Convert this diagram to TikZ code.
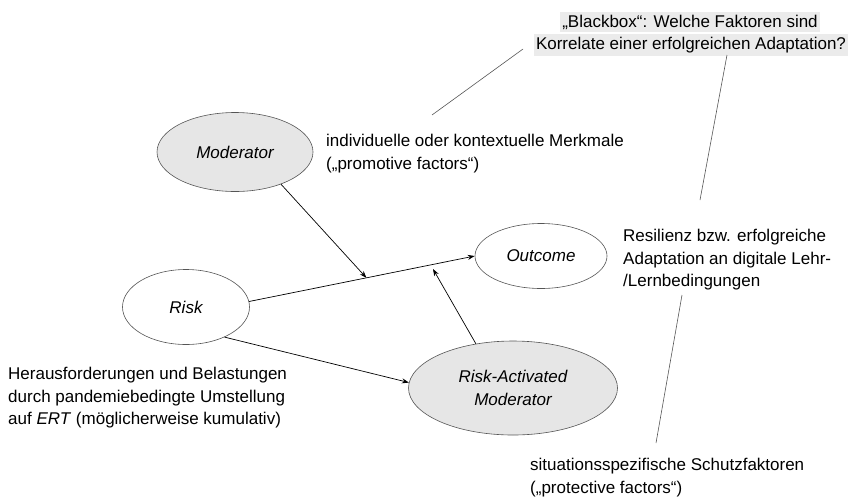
\documentclass[tikz,border=0pt]{standalone}
\usepackage{fontspec}
\setmainfont{Liberation Sans}
\usetikzlibrary{shapes.geometric,arrows.meta}
\definecolor{ellfill}{HTML}{E6E6E6}
\definecolor{ellline}{HTML}{555555}
\definecolor{hl}{HTML}{EBEBEB}
\newcommand{\mainsize}{\fontsize{17}{22.5}\selectfont}
\tikzset{
  ell/.style={ellipse, draw=ellline, line width=0.6pt, inner sep=0pt, font=\mainsize\itshape, align=center},
  shaded/.style={ell, fill=ellfill},
  plain/.style={ell, fill=white},
  arr/.style={-{Stealth[length=7pt,width=5pt]}, line width=0.7pt, black},
  lead/.style={line width=0.6pt, ellline},
  txt/.style={anchor=north west, inner sep=0pt, align=left},
}
\begin{document}
\begin{tikzpicture}[x=1pt,y=-1pt,font=\mainsize]
\useasboundingbox (0,0) rectangle (853,496);
% ellipses
\node[shaded, minimum width=156pt, minimum height=79pt] (mod) at (235,152) {Moderator};
\node[plain, minimum width=127pt, minimum height=75pt] (risk) at (186,307) {Risk};
\node[plain, minimum width=132pt, minimum height=65pt] (out) at (541,256) {Outcome};
\node[shaded, minimum width=209pt, minimum height=94pt] (ram) at (513,388) {Risk-Activated\\Moderator};
% arrows
\draw[arr] (risk.5) -- (out.180) coordinate[pos=0.52] (m1);
\draw[arr] (mod.-35) -- (m1);
\coordinate (m2) at (433,269);
\draw[arr] (ram.130) -- (m2);
\draw[arr] (risk.-38) -- (ram.177);
% blackbox
\node[fill=hl, inner xsep=2pt, inner ysep=3pt, anchor=base] (bb1) at (690,27) {„Blackbox“: Welche Faktoren sind};
\node[fill=hl, inner xsep=2pt, inner ysep=3pt, anchor=base] (bb2) at (691,49) {Korrelate einer erfolgreichen Adaptation?};
\coordinate (l1a) at (432,115);
\coordinate (l1b) at (523,49);
\coordinate (l2a) at (727,55);
\coordinate (l2b) at (700,200);
\coordinate (l3a) at (682,295);
\coordinate (l3b) at (656,443);
\draw[lead] (l1a) -- (l1b);
\draw[lead] (l2a) -- (l2b);
\draw[lead] (l3a) -- (l3b);
% texts
\node[txt] (t1) at (326,134) {individuelle oder kontextuelle Merkmale\\(„promotive factors“)};
\node[txt] (t2) at (623,229) {Resilienz bzw. erfolgreiche\\Adaptation an digitale Lehr-\\/Lernbedingungen};
\node[txt] (t3) at (8,367) {Herausforderungen und Belastungen\\durch pandemiebedingte Umstellung\\auf \textit{ERT} (möglicherweise kumulativ)};
\node[txt] (t4) at (530,458) {situationsspezifische Schutzfaktoren\\(„protective factors“)};
\end{tikzpicture}
\end{document}
